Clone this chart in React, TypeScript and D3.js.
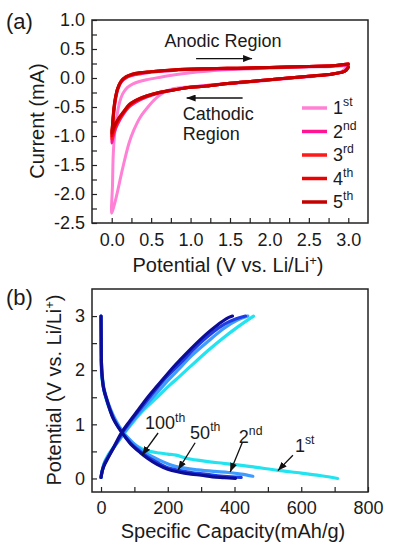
import { useEffect, useRef } from 'react';
import * as d3 from 'd3';

type Pt = [number, number];

// (a) cyclic voltammetry, [potential V, current mA]
const cv1st: Pt[] = [
  [3.0, 0.21], [2.9, 0.1], [2.7, 0.05], [2.5, 0.02], [2.0, -0.04], [1.5, -0.1], [1.2, -0.13], [1.0, -0.15],
  [0.85, -0.17], [0.74, -0.2], [0.65, -0.26], [0.57, -0.34], [0.46, -0.5], [0.36, -0.68], [0.28, -0.9],
  [0.22, -1.12], [0.14, -1.55], [0.07, -1.98], [0.03, -2.2], [0.0, -2.33],
  [0.01, -1.85], [0.02, -1.3], [0.04, -0.92], [0.07, -0.62], [0.1, -0.42], [0.14, -0.27], [0.2, -0.16],
  [0.27, -0.1], [0.35, -0.06], [0.44, -0.03], [0.6, 0.01], [0.78, 0.05], [1.0, 0.09], [1.3, 0.13],
  [1.6, 0.15], [2.0, 0.17], [2.5, 0.19], [2.8, 0.2], [3.0, 0.22],
];
const cv2nd: Pt[] = [
  [3.0, 0.19], [2.96, 0.12], [2.8, 0.07], [2.5, 0.03], [2.0, -0.03], [1.5, -0.09], [1.2, -0.13], [1.0, -0.16],
  [0.77, -0.21], [0.6, -0.26], [0.44, -0.33], [0.3, -0.42], [0.22, -0.5], [0.15, -0.62], [0.1, -0.73],
  [0.05, -0.87], [0.02, -1.0], [0.0, -1.12],
  [0.01, -0.92], [0.025, -0.62], [0.045, -0.4], [0.075, -0.21], [0.12, -0.07], [0.18, 0.0], [0.25, 0.04],
  [0.35, 0.07], [0.5, 0.1], [0.78, 0.13], [1.2, 0.15], [1.6, 0.16], [2.0, 0.18], [2.5, 0.2], [2.8, 0.21], [3.0, 0.23],
];
const cv3rd: Pt[] = [
  [3.0, 0.19], [2.96, 0.12], [2.8, 0.07], [2.5, 0.03], [2.0, -0.03], [1.5, -0.09], [1.2, -0.14], [1.0, -0.16],
  [0.77, -0.21], [0.6, -0.25], [0.44, -0.32], [0.3, -0.4], [0.22, -0.48], [0.15, -0.6], [0.1, -0.7],
  [0.05, -0.83], [0.02, -0.94], [0.0, -1.05],
  [0.01, -0.87], [0.025, -0.6], [0.045, -0.38], [0.075, -0.19], [0.12, -0.06], [0.18, 0.01], [0.25, 0.05],
  [0.35, 0.08], [0.5, 0.11], [0.78, 0.14], [1.2, 0.16], [1.6, 0.17], [2.0, 0.18], [2.5, 0.2], [2.8, 0.21], [3.0, 0.24],
];
const cv4th: Pt[] = [
  [3.0, 0.19], [2.96, 0.12], [2.8, 0.07], [2.5, 0.03], [2.0, -0.03], [1.5, -0.09], [1.2, -0.14], [1.0, -0.16],
  [0.77, -0.21], [0.6, -0.25], [0.44, -0.31], [0.3, -0.39], [0.22, -0.47], [0.15, -0.59], [0.1, -0.68],
  [0.05, -0.8], [0.02, -0.9], [0.0, -1.0],
  [0.01, -0.83], [0.025, -0.57], [0.045, -0.36], [0.075, -0.18], [0.12, -0.05], [0.18, 0.02], [0.25, 0.06],
  [0.35, 0.09], [0.5, 0.11], [0.78, 0.14], [1.2, 0.16], [1.6, 0.17], [2.0, 0.18], [2.5, 0.2], [2.8, 0.21], [3.0, 0.24],
];
const cv5th: Pt[] = [
  [3.0, 0.18], [2.96, 0.12], [2.8, 0.07], [2.5, 0.03], [2.0, -0.03], [1.5, -0.09], [1.2, -0.14], [1.0, -0.16],
  [0.77, -0.21], [0.6, -0.25], [0.44, -0.31], [0.3, -0.39], [0.22, -0.46], [0.15, -0.58], [0.1, -0.67],
  [0.05, -0.78], [0.02, -0.87], [0.0, -0.95],
  [0.01, -0.8], [0.025, -0.55], [0.045, -0.35], [0.075, -0.18], [0.12, -0.06], [0.18, 0.02], [0.25, 0.06],
  [0.35, 0.09], [0.5, 0.11], [0.78, 0.14], [1.2, 0.16], [1.6, 0.17], [2.0, 0.18], [2.5, 0.2], [2.8, 0.21], [3.0, 0.24],
];
const cvCycles = [cv1st, cv2nd, cv3rd, cv4th, cv5th];
const cycleNums = ['1', '2', '3', '4', '5'];
const cycleSups = ['st', 'nd', 'rd', 'th', 'th'];

// (b) charge / discharge, [capacity mAh/g, potential V]
const dis1st: Pt[] = [
  [0, 2.2], [1, 2.0], [3, 1.85], [7, 1.68], [15, 1.47], [27, 1.26], [40, 1.09], [55, 0.94], [75, 0.78],
  [100, 0.63], [125, 0.54], [145, 0.5], [175, 0.47], [200, 0.45], [225, 0.43], [258, 0.37], [300, 0.33],
  [350, 0.29], [397, 0.26], [460, 0.21], [530, 0.15], [600, 0.1], [660, 0.05], [709, 0.0],
];
const chg1st: Pt[] = [
  [0, 0.02], [3, 0.12], [8, 0.26], [20, 0.42], [48, 0.66], [75, 0.88], [97, 1.05], [130, 1.28], [168, 1.5],
  [205, 1.72], [238, 1.9], [268, 2.07], [320, 2.36], [367, 2.6], [410, 2.8], [440, 2.93], [457, 3.0],
];
const dis2nd: Pt[] = [
  [0, 3.0], [0.5, 2.5], [1.5, 2.1], [4, 1.88], [9, 1.66], [18, 1.46], [30, 1.26], [42, 1.1], [55, 0.96],
  [72, 0.81], [95, 0.66], [120, 0.53], [145, 0.43], [178, 0.33], [205, 0.26], [232, 0.21], [290, 0.16],
  [340, 0.13], [382, 0.11], [420, 0.08], [455, 0.04],
];
const chg2nd: Pt[] = [
  [0, 0.02], [4, 0.15], [12, 0.3], [25, 0.45], [45, 0.63], [70, 0.85], [100, 1.1], [130, 1.32], [170, 1.6],
  [205, 1.84], [238, 2.05], [270, 2.26], [320, 2.53], [370, 2.78], [410, 2.93], [440, 3.0],
];
const dis50th: Pt[] = [
  [0, 3.0], [0.5, 2.55], [1.2, 2.15], [3, 1.9], [8, 1.66], [17, 1.46], [28, 1.26], [38, 1.1], [51, 0.96],
  [68, 0.81], [91, 0.64], [118, 0.5], [142, 0.39], [170, 0.29], [200, 0.2], [232, 0.15], [270, 0.11],
  [310, 0.08], [350, 0.05], [390, 0.03], [420, 0.02],
];
const chg50th: Pt[] = [
  [0, 0.02], [4, 0.15], [10, 0.27], [22, 0.4], [42, 0.61], [64, 0.84], [88, 1.05], [116, 1.27], [148, 1.52],
  [190, 1.83], [238, 2.13], [280, 2.4], [325, 2.65], [370, 2.85], [405, 2.95], [433, 3.0],
];
const dis100th: Pt[] = [
  [0, 3.0], [0.5, 2.6], [1, 2.2], [3, 1.92], [8, 1.66], [17, 1.46], [27, 1.26], [37, 1.1], [50, 0.96],
  [67, 0.81], [90, 0.63], [117, 0.48], [140, 0.37], [168, 0.26], [200, 0.17], [232, 0.12], [270, 0.08],
  [300, 0.06], [334, 0.03], [370, 0.015], [403, 0.0],
];
const chg100th: Pt[] = [
  [0, 0.02], [3, 0.12], [8, 0.22], [22, 0.39], [40, 0.6], [62, 0.85], [85, 1.05], [112, 1.27], [140, 1.5],
  [170, 1.72], [217, 2.06], [240, 2.21], [270, 2.4], [318, 2.68], [350, 2.84], [375, 2.95], [394, 3.0],
];
const cdCurves = [[dis1st, chg1st], [dis2nd, chg2nd], [dis50th, chg50th], [dis100th, chg100th]];
const cdNums = ['100', '50', '2', '1'];
const cdSups = ['th', 'th', 'nd', 'st'];
// label anchor and arrow [from, to] in data units
const cdLabelAt: Pt[] = [[132, 0.91], [267, 0.73], [413, 0.66], [581, 0.49]];
const cdArrows: [Pt, Pt][] = [
  [[171, 0.84], [123, 0.43]],
  [[282, 0.66], [231, 0.16]],
  [[423, 0.66], [387, 0.12]],
  [[575, 0.43], [530, 0.145]],
];

const cvColors = ['#ff80d5', '#ff1493', '#ff1a1a', '#ee0000', '#c40000'];
const cdColors = ['#22e3f0', '#3d9cff', '#1f3de6', '#0c0c96'];
const FONT = '"Liberation Sans", Arial, Helvetica, sans-serif';

const App = () => {
  const svgRef = useRef<SVGSVGElement>(null);

  useEffect(() => {
    const svg = d3.select(svgRef.current);
    svg.selectAll('*').remove();
    svg.attr('width', 393).attr('height', 550).style('font-family', FONT);

    svg.append('defs').append('marker')
      .attr('id', 'arr')
      .attr('viewBox', '0 0 9 7')
      .attr('refX', 9).attr('refY', 3.5)
      .attr('markerWidth', 9).attr('markerHeight', 7)
      .attr('markerUnits', 'userSpaceOnUse')
      .attr('orient', 'auto')
      .append('path').attr('d', 'M0,0L9,3.5L0,7z').attr('fill', '#111');

    const num = (d: d3.NumberValue, digits: number) => {
      const v = +d;
      return (v < -1e-9 ? '-' : '') + Math.abs(v).toFixed(digits);
    };

    const supText = (g: any, x: number, y: number, base: string, sup: string, size: number, anchor = 'start') => {
      const t = g.append('text').attr('x', x).attr('y', y).attr('font-size', size)
        .attr('fill', '#1a1a1a').attr('text-anchor', anchor);
      t.append('tspan').text(base);
      t.append('tspan').attr('dy', -size * 0.42).attr('font-size', size * 0.68).text(sup);
      return t;
    };

    const potentialTitle = (t: any) => {
      t.append('tspan').text('Potential (V vs. Li/Li');
      t.append('tspan').attr('dy', -7).attr('font-size', 13).text('+');
      t.append('tspan').attr('dy', 7).text(')');
    };

    const styleAxis = (g: any) => {
      g.select('.domain').remove();
      g.selectAll('line').attr('stroke', '#222').attr('stroke-width', 1.2);
      g.selectAll('text').attr('font-size', 18).attr('fill', '#1a1a1a').style('font-family', FONT);
    };

    // ---------- (a) ----------
    const xA = d3.scaleLinear().domain([-0.25, 3.25]).range([92, 368]);
    const yA = d3.scaleLinear().domain([-2.5, 1.0]).range([223, 20]);
    const gA = svg.append('g');

    gA.append('g').attr('transform', 'translate(0,223)')
      .call(d3.axisBottom(xA).tickValues(d3.range(0, 3.001, 0.25)).tickSize(-5).tickPadding(10)
        .tickFormat(d => (Math.round(+d * 4) % 2 === 0 ? num(d, 1) : '')))
      .call(styleAxis);
    gA.append('g').attr('transform', 'translate(92,0)')
      .call(d3.axisLeft(yA).tickValues(d3.range(-2.5, 1.001, 0.25)).tickSize(-5).tickPadding(7)
        .tickFormat(d => (Math.round(+d * 4) % 2 === 0 ? num(d, 1) : '')))
      .call(styleAxis);

    const lineA = d3.line<Pt>().x(d => xA(d[0])).y(d => yA(d[1])).curve(d3.curveCatmullRom.alpha(0.5));
    gA.append('g').selectAll('path').data(cvCycles).join('path')
      .attr('d', d => lineA(d))
      .attr('fill', 'none')
      .attr('stroke', (_, i) => cvColors[i])
      .attr('stroke-width', 3)
      .attr('stroke-linejoin', 'round')
      .attr('stroke-linecap', 'round');

    gA.append('rect').attr('x', 92).attr('y', 20).attr('width', 276).attr('height', 203)
      .attr('fill', 'none').attr('stroke', '#222').attr('stroke-width', 1.5);

    // region notes
    gA.append('text').attr('x', xA(0.67)).attr('y', yA(0.54)).attr('font-size', 18).attr('fill', '#1a1a1a').text('Anodic Region');
    gA.append('text').attr('x', xA(0.9)).attr('y', yA(-0.73)).attr('font-size', 18).attr('fill', '#1a1a1a').text('Cathodic');
    gA.append('text').attr('x', xA(0.9)).attr('y', yA(-1.07)).attr('font-size', 18).attr('fill', '#1a1a1a').text('Region');
    const regionArrows: [Pt, Pt][] = [[[1.07, 0.335], [1.78, 0.335]], [[1.66, -0.345], [0.95, -0.345]]];
    gA.append('g').selectAll('line').data(regionArrows).join('line')
      .attr('x1', d => xA(d[0][0])).attr('y1', d => yA(d[0][1]))
      .attr('x2', d => xA(d[1][0])).attr('y2', d => yA(d[1][1]))
      .attr('stroke', '#111').attr('stroke-width', 1.3).attr('marker-end', 'url(#arr)');

    // legend
    const legA = gA.append('g');
    cycleNums.forEach((n, i) => {
      const y = 108 + i * 23.5;
      legA.append('line').attr('x1', 302).attr('x2', 327).attr('y1', y).attr('y2', y)
        .attr('stroke', cvColors[i]).attr('stroke-width', 3.5);
      supText(legA, 333, y + 6, n, cycleSups[i], 18);
    });

    // titles
    potentialTitle(gA.append('text').attr('x', 228).attr('y', 272).attr('font-size', 20)
      .attr('text-anchor', 'middle').attr('fill', '#1a1a1a'));
    gA.append('text').attr('transform', 'translate(37,121) rotate(-90)').attr('dy', '0.35em')
      .attr('font-size', 20).attr('text-anchor', 'middle').attr('fill', '#1a1a1a').text('Current (mA)');
    gA.append('text').attr('x', 6).attr('y', 29).attr('font-size', 22).attr('fill', '#1a1a1a').text('(a)');

    // ---------- (b) ----------
    const xB = d3.scaleLinear().domain([-27, 800]).range([92, 368]);
    const yB = d3.scaleLinear().domain([-0.25, 3.5]).range([492, 289]);
    const gB = svg.append('g');

    gB.append('g').attr('transform', 'translate(0,492)')
      .call(d3.axisBottom(xB).tickValues(d3.range(0, 801, 100)).tickSize(-5).tickPadding(9)
        .tickFormat(d => (+d % 200 === 0 ? String(d) : '')))
      .call(styleAxis);
    gB.append('g').attr('transform', 'translate(92,0)')
      .call(d3.axisLeft(yB).tickValues(d3.range(0, 3.01, 0.5)).tickSize(-5).tickPadding(7)
        .tickFormat(d => (Number.isInteger(+d) ? String(d) : '')))
      .call(styleAxis);

    const lineB = d3.line<Pt>().x(d => xB(d[0])).y(d => yB(d[1])).curve(d3.curveCatmullRom.alpha(0.5));
    cdCurves.forEach((pair, i) => {
      gB.append('g').selectAll('path').data(pair).join('path')
        .attr('d', d => lineB(d))
        .attr('fill', 'none')
        .attr('stroke', cdColors[i])
        .attr('stroke-width', 3.2)
        .attr('stroke-linejoin', 'round')
        .attr('stroke-linecap', 'round');
    });

    gB.append('rect').attr('x', 92).attr('y', 289).attr('width', 276).attr('height', 203)
      .attr('fill', 'none').attr('stroke', '#222').attr('stroke-width', 1.5);

    gB.append('g').selectAll('line').data(cdArrows).join('line')
      .attr('x1', d => xB(d[0][0])).attr('y1', d => yB(d[0][1]))
      .attr('x2', d => xB(d[1][0])).attr('y2', d => yB(d[1][1]))
      .attr('stroke', '#111').attr('stroke-width', 1.3).attr('marker-end', 'url(#arr)');
    cdNums.forEach((n, i) => {
      supText(gB, xB(cdLabelAt[i][0]), yB(cdLabelAt[i][1]), n, cdSups[i], 18);
    });

    gB.append('text').attr('x', 233).attr('y', 538).attr('font-size', 20).attr('text-anchor', 'middle')
      .attr('fill', '#1a1a1a').text('Specific Capacity(mAh/g)');
    potentialTitle(gB.append('text').attr('transform', 'translate(54,390) rotate(-90)').attr('dy', '0.35em')
      .attr('font-size', 20).attr('text-anchor', 'middle').attr('fill', '#1a1a1a'));
    gB.append('text').attr('x', 6).attr('y', 305).attr('font-size', 22).attr('fill', '#1a1a1a').text('(b)');
  }, []);

  return (
    <svg ref={svgRef} style={{ position: 'absolute', left: 0, top: 0, background: '#fff' }}></svg>
  );
};

export default App;
